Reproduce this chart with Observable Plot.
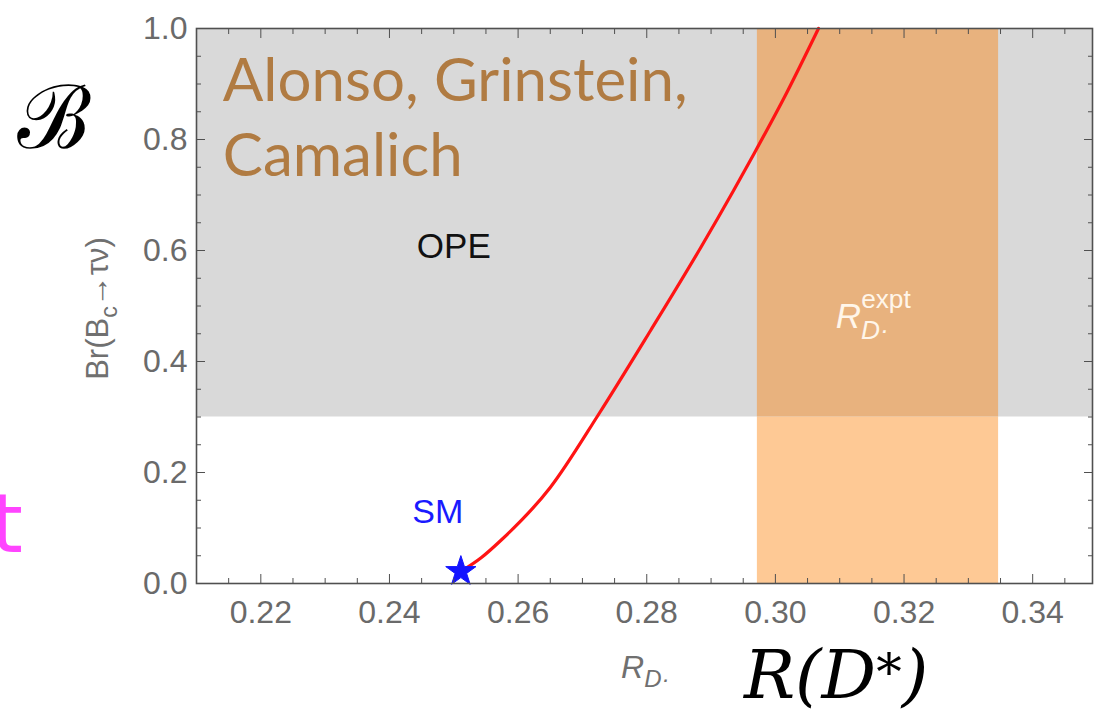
<!DOCTYPE html>
<html>
<head>
<meta charset="utf-8">
<style>
  html, body { margin: 0; padding: 0; background: #fff; }
  #chart { width: 1100px; height: 714px; }
</style>
<script src="https://cdn.jsdelivr.net/npm/d3@7"></script>
<script src="https://cdn.jsdelivr.net/npm/@observablehq/plot@0.6"></script>
</head>
<body>
<div id="chart"></div>
<script>
// ---- data ----
const xDomain = [0.21, 0.3493];
const yDomain = [0, 1];
const xMajor = [0.22, 0.24, 0.26, 0.28, 0.30, 0.32, 0.34];
const xMinor = [0.215, 0.225, 0.23, 0.235, 0.245, 0.25, 0.255, 0.265, 0.27, 0.275, 0.285, 0.29, 0.295,
                0.305, 0.31, 0.315, 0.325, 0.33, 0.335, 0.345];
const yMajor = [0, 0.2, 0.4, 0.6, 0.8, 1.0];
const yMinor = [0.05, 0.1, 0.15, 0.25, 0.3, 0.35, 0.45, 0.5, 0.55, 0.65, 0.7, 0.75, 0.85, 0.9, 0.95];

// OPE-excluded region (grey) and experimental R(D*) band (orange)
const opeRegion = [{x1: 0.21, x2: 0.3493, y1: 0.3, y2: 1.0}];
const exptBand = [{x1: 0.2972, x2: 0.3347, y1: 0.0, y2: 0.3, part: "low"},
                  {x1: 0.2972, x2: 0.3347, y1: 0.3, y2: 1.0, part: "high"}];

// red curve: Br(Bc -> tau nu) vs R_D*
const curveX = [0.2511, 0.2543, 0.2573, 0.2650, 0.2726, 0.2806, 0.2884, 0.2935, 0.2967, 0.3017, 0.3067];
const curveY = [0.0216, 0.0468, 0.0775, 0.1730, 0.3063, 0.4559, 0.6054, 0.7081, 0.7748, 0.8829, 1.0000];
const curve = curveX.map((x, i) => ({x, y: curveY[i]}));

// Standard Model point
const smPoint = [{x: 0.2511, y: 0.0216}];

// annotation texts (_{..} subscript, ^{..} superscript)
const authorLines = [{x: 0.2141, y: 0.870, text: "Alonso, Grinstein,"},
                     {x: 0.2141, y: 0.735, text: "Camalich"}];
const opeLabel = [{x: 0.2500, y: 0.607, text: "OPE"}];
const smLabel = [{x: 0.2475, y: 0.128, text: "SM"}];
const exptLabel = [{x: 0.3094, y: 0.4595, text: "R^{expt}_{D·}"}];
const xLabel = [{x: 0.2760, y: -0.1694, text: "R_{D·}"}];
const yLabel = [{x: 0.1947, y: 0.4955, text: "Br(B_{c}→τν)"}];
const bigB = [{x: 0.1878, y: 0.836, text: "ℬ"}];
const bigR = [{x: 0.2951, y: -0.2072, text: "R(D^{*})"}];
const pinkT = [{x: 0.1830, y: 0.0559, text: "t"}];

const tickFont = 32;
const axisColor = "#505050";
const tickText = "#6a6a6a";

const chart = Plot.plot({
  width: 1100,
  height: 714,
  marginLeft: 196,
  marginRight: 8,
  marginTop: 28,
  marginBottom: 131,
  x: {domain: xDomain},
  y: {domain: yDomain},
  style: {fontFamily: "'Liberation Sans', Arial, sans-serif", background: "#fff", overflow: "visible"},
  marks: [
    Plot.rect(opeRegion, {x1: "x1", x2: "x2", y1: "y1", y2: "y2", fill: "#d9d9d9"}),
    Plot.rect(exptBand, {x1: "x1", x2: "x2", y1: "y1", y2: "y2",
      fill: d => d.part === "low" ? "#fec995" : "#e8b27e"}),
    Plot.line(curve, {x: "x", y: "y", stroke: "#ff1414", strokeWidth: 3.2, curve: "monotone-x"}),
    Plot.dot(smPoint, {x: "x", y: "y", symbol: "star", r: 9.5, fill: "#1414ff", stroke: "#1414ff", strokeWidth: 1}),

    // annotations
    Plot.text(authorLines, {x: "x", y: "y", text: "text", textAnchor: "start", lineAnchor: "bottom",
      fontSize: 60, fill: "#b07b42", fontFamily: "Lato, 'Open Sans', sans-serif"}),
    Plot.text(opeLabel, {x: "x", y: "y", text: "text", fontSize: 35, fill: "#111"}),
    Plot.text(smLabel, {x: "x", y: "y", text: "text", fontSize: 34, fill: "#1a1aff"}),
    Plot.text(exptLabel, {x: "x", y: "y", text: "text", textAnchor: "start", lineAnchor: "bottom",
      fontSize: 35, fontStyle: "italic", fill: "#fff6ea"}),
    Plot.text(xLabel, {x: "x", y: "y", text: "text", textAnchor: "start", lineAnchor: "bottom",
      fontSize: 32, fontStyle: "italic", fill: "#707070"}),
    Plot.text(yLabel, {x: "x", y: "y", text: "text", rotate: -90, fontSize: 31, fill: "#707070"}),
    Plot.text(bigB, {x: "x", y: "y", text: "text", fontSize: 88, fill: "#000",
      fontFamily: "'DejaVu Serif', serif"}),
    Plot.text(bigR, {x: "x", y: "y", text: "text", textAnchor: "start", lineAnchor: "bottom",
      fontSize: 68, fill: "#000", fontStyle: "italic", fontFamily: "'DejaVu Serif', serif"}),
    Plot.text(pinkT, {x: "x", y: "y", text: "text", textAnchor: "end", lineAnchor: "bottom",
      fontSize: 82, fill: "#ff44ff", fontFamily: "'DejaVu Sans', sans-serif"}),

    // frame and ticks (Mathematica-style inward ticks on all sides)
    Plot.frame({stroke: axisColor, strokeWidth: 1.6}),
    Plot.axisX({anchor: "bottom", ticks: xMajor, tickSize: -9, tickPadding: 26, tickFormat: d3.format(".2f"),
      fontSize: tickFont, fill: tickText, stroke: axisColor, label: null}),
    Plot.axisX({anchor: "bottom", ticks: xMinor, tickSize: -5, tickFormat: () => "", stroke: axisColor, label: null}),
    Plot.axisX({anchor: "top", ticks: xMajor, tickSize: -9, tickFormat: () => "", stroke: axisColor, label: null}),
    Plot.axisX({anchor: "top", ticks: xMinor, tickSize: -5, tickFormat: () => "", stroke: axisColor, label: null}),
    Plot.axisY({anchor: "left", ticks: yMajor, tickSize: -9, tickPadding: 18, tickFormat: d3.format(".1f"),
      fontSize: tickFont, fill: tickText, stroke: axisColor, label: null}),
    Plot.axisY({anchor: "left", ticks: yMinor, tickSize: -5, tickFormat: () => "", stroke: axisColor, label: null}),
    Plot.axisY({anchor: "right", ticks: yMajor, tickSize: -9, tickFormat: () => "", stroke: axisColor, label: null}),
    Plot.axisY({anchor: "right", ticks: yMinor, tickSize: -5, tickFormat: () => "", stroke: axisColor, label: null})
  ]
});

document.getElementById("chart").appendChild(chart);

// turn _{..} and ^{..} markup into real sub/superscript tspans (stacked when adjacent)
function richify(svg) {
  const ns = "http://www.w3.org/2000/svg";
  svg.querySelectorAll("text").forEach(el => {
    const s = el.textContent;
    if (!/[_^]\{/.test(s)) return;
    const fs = parseFloat(getComputedStyle(el).fontSize) || 16;
    el.textContent = "";
    let cur = 0, last = 0, m, prevScript = null;
    const re = /([_^])\{([^}]*)\}/g;
    const push = (txt, shift, small, back, upright) => {
      const t = document.createElementNS(ns, "tspan");
      if (shift - cur !== 0) t.setAttribute("dy", (shift - cur).toFixed(2));
      cur = shift;
      if (small) t.setAttribute("font-size", (fs * 0.75).toFixed(2));
      if (back) t.setAttribute("dx", (-back).toFixed(2));
      if (upright) t.setAttribute("font-style", "normal");
      t.textContent = txt;
      el.appendChild(t);
      return t;
    };
    while ((m = re.exec(s))) {
      let back = 0;
      if (m.index > last) { push(s.slice(last, m.index), 0, false); prevScript = null; }
      else if (prevScript) back = prevScript.getComputedTextLength();
      const isSup = m[1] === "^";
      const shift = isSup ? -fs * (m[2] === "*" ? 0.12 : 0.58) : fs * 0.3;
      prevScript = push(m[2], shift, true, back, isSup && m[2] !== "*");
      last = re.lastIndex;
    }
    if (last < s.length) push(s.slice(last), 0, false);
  });
}
richify(chart);
</script>
</body>
</html>
